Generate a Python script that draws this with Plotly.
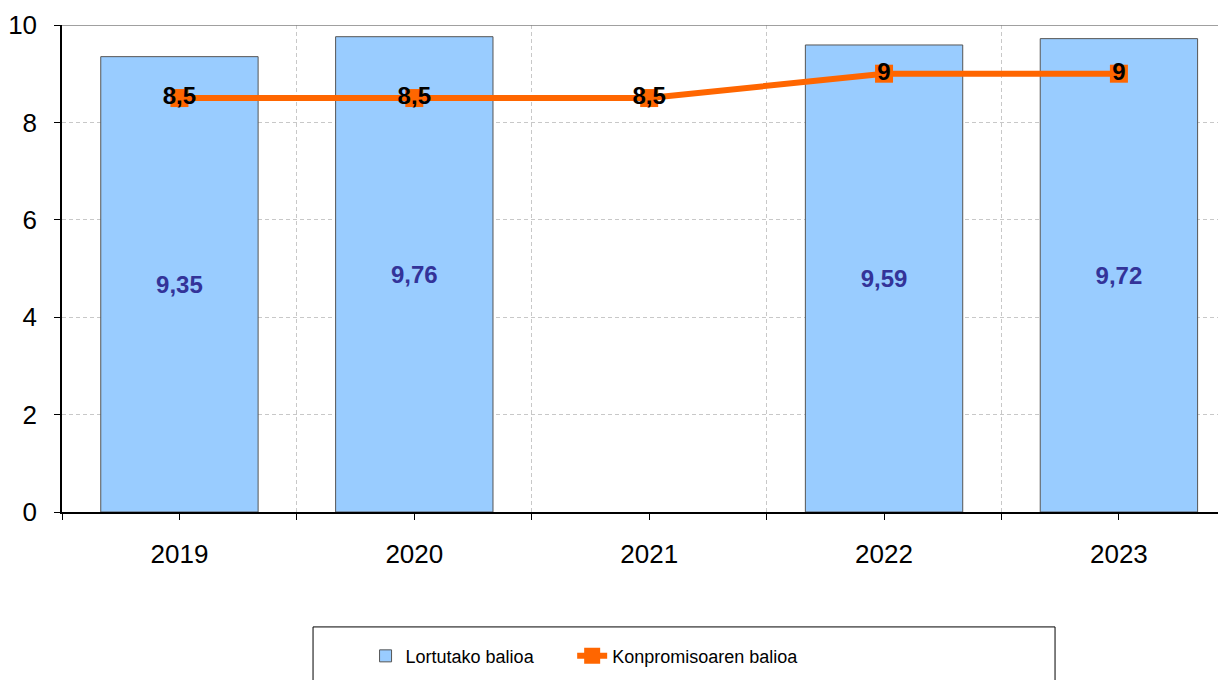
import plotly.graph_objects as go

years = ["2019", "2020", "2021", "2022", "2023"]
achieved = [9.35, 9.76, None, 9.59, 9.72]
commitment = [8.5, 8.5, 8.5, 9, 9]
y_ticks = [0, 2, 4, 6, 8, 10]

def fmt(v):
    if v is None:
        return ""
    return f"{v:g}".replace(".", ",")

xpos = list(range(len(years)))
FONT = "Arial, Liberation Sans, sans-serif"

fig = go.Figure()
fig.add_trace(go.Bar(
    x=xpos, y=achieved, name="Lortutako balioa", legend="legend",
    width=0.67,
    marker=dict(color="#99CCFF", line=dict(color="#555555", width=1)),
    text=[fmt(v) for v in achieved], textposition="inside",
    insidetextanchor="middle", textangle=0, constraintext="none",
    textfont=dict(color="#333399", size=24, family=FONT, weight="bold"),
))
fig.add_trace(go.Scatter(
    x=xpos, y=commitment, name="Konpromisoaren balioa", legend="legend2",
    mode="lines+markers+text",
    line=dict(color="#FF6600", width=6),
    marker=dict(symbol="square", size=18, color="#FF6600"),
    text=[fmt(v) for v in commitment], textposition="middle center",
    textfont=dict(color="black", size=24, family=FONT, weight="bold"),
))

fig.add_shape(type="line", xref="paper", yref="y", x0=0, x1=1, y0=10, y1=10,
              line=dict(color="#808080", width=1.5))
fig.add_shape(type="rect", xref="paper", yref="paper",
              x0=0.2142, x1=0.8473, y0=-0.236, y1=-0.40,
              line=dict(color="black", width=1))

legend_common = dict(orientation="h", xanchor="left", y=-0.296, yanchor="middle",
                     font=dict(size=18, family=FONT), bgcolor="rgba(0,0,0,0)")

fig.update_layout(
    width=1226, height=680,
    margin=dict(l=54, r=0, t=17, b=176, autoexpand=False),
    plot_bgcolor="white", paper_bgcolor="white",
    font=dict(family=FONT, color="black"),
    showlegend=True,
    legend=dict(x=0.259, **legend_common),
    legend2=dict(x=0.4353, **legend_common),
    xaxis=dict(
        range=[-0.5, 4.49], tickvals=xpos, ticktext=years, automargin=False,
        showgrid=False, showline=True, linecolor="black", linewidth=1.5,
        ticks="outside", ticklen=6, tickcolor="black",
        tickfont=dict(size=26, family=FONT), ticklabelstandoff=12,
        minor=dict(tick0=0.5, dtick=1, showgrid=True, gridcolor="#C8C8C8",
                   griddash="4px,3px", gridwidth=1, ticks="outside", ticklen=6,
                   tickcolor="black"),
        zeroline=False,
    ),
    yaxis=dict(
        range=[0, 10], tickvals=y_ticks, automargin=False,
        showgrid=True, gridcolor="#C8C8C8", griddash="4px,3px", gridwidth=1,
        showline=True, linecolor="black", linewidth=1.5,
        ticks="outside", ticklen=6, tickcolor="black",
        tickfont=dict(size=26, family=FONT), ticklabelstandoff=12,
        zeroline=False,
    ),
)

fig.write_html("out.html")
